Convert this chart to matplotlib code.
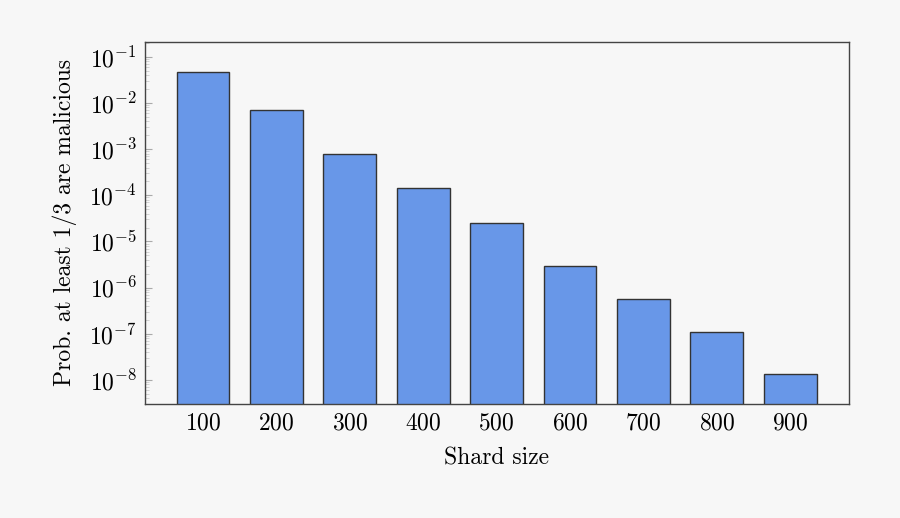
import numpy as np
import matplotlib.pyplot as plt
from matplotlib.ticker import LogLocator, NullFormatter

shard_sizes = [100, 200, 300, 400, 500, 600, 700, 800, 900]
probs = [4.7e-2, 7.2e-3, 7.8e-4, 1.42e-4, 2.5e-5, 3.0e-6, 5.8e-7, 1.07e-7, 1.35e-8]

plt.rcParams['font.family'] = 'serif'
plt.rcParams['font.serif'] = ['cmr10']
plt.rcParams['mathtext.fontset'] = 'cm'
plt.rcParams['axes.formatter.use_mathtext'] = True

bg = '#f7f7f7'
fig = plt.figure(figsize=(9, 5.18), dpi=100, facecolor=bg)
ax = fig.add_axes([145 / 900, 1 - 404 / 518, 704 / 900, 362 / 518])
ax.set_facecolor(bg)

ax.bar(shard_sizes, probs, width=72, color='#6897e8', edgecolor='#333333', linewidth=1.0, zorder=2)

ax.set_yscale('log')
ax.set_ylim(3.0e-9, 0.21)
ax.set_xlim(21, 980)
ax.set_xticks(shard_sizes)
ax.yaxis.set_major_locator(LogLocator(base=10, numticks=20))
ax.yaxis.set_minor_locator(LogLocator(base=10, subs=np.arange(2, 10), numticks=20))
ax.yaxis.set_minor_formatter(NullFormatter())

ax.tick_params(axis='x', length=0, labelsize=17, pad=6)
ax.tick_params(axis='y', which='major', direction='in', length=5, color='#aaaaaa', labelsize=17, pad=6)
ax.tick_params(axis='y', which='minor', direction='in', length=3, color='#cccccc')

for s in ax.spines.values():
    s.set_color('#444444')
    s.set_linewidth(1.0)

ax.set_xlabel('Shard size', fontsize=17, labelpad=9)
ax.set_ylabel('Prob. at least 1/3 are malicious', fontsize=17, labelpad=9)

fig.savefig('out.png', dpi=100, facecolor=bg)
